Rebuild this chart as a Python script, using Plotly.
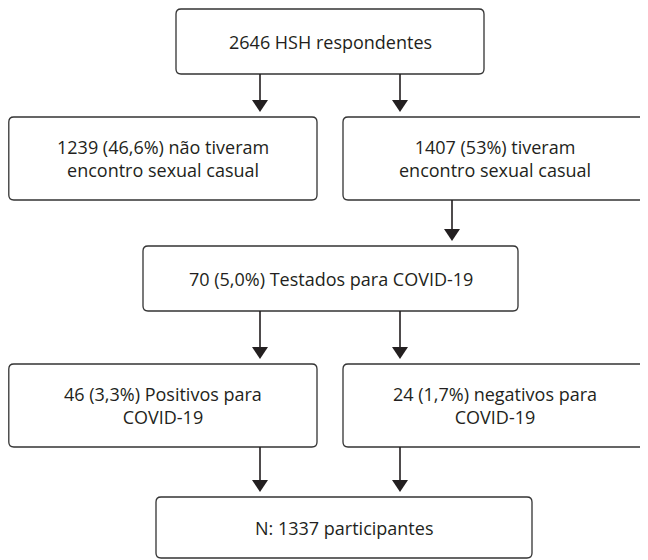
import plotly.graph_objects as go

# ---- data (flowchart content) ----
node_ids = ["total", "nao_casual", "casual", "testados", "positivos", "negativos", "final"]
node_counts = [2646, 1239, 1407, 70, 46, 24, 1337]
node_labels = [
    "2646 HSH respondentes",
    "1239 (46,6%) não tiveram<br>encontro sexual casual",
    "1407 (53%) tiveram<br>encontro sexual casual",
    "70 (5,0%) Testados para COVID-19",
    "46 (3,3%) Positivos para<br>COVID-19",
    "24 (1,7%) negativos para<br>COVID-19",
    "N: 1337 participantes",
]
edges = [
    ("total", "nao_casual"),
    ("total", "casual"),
    ("casual", "testados"),
    ("testados", "positivos"),
    ("testados", "negativos"),
    ("positivos", "final"),
    ("negativos", "final"),
]

# ---- layout (pixel geometry of boxes in page coords: x0, y0, x1, y1) ----
W, H = 648, 560
OFF = 8  # page body margin
box_geom = {
    "total": (176, 9, 484, 74),
    "nao_casual": (8.8, 117, 317, 200),
    "casual": (343, 117, 647, 200),
    "testados": (143, 246, 518, 311),
    "positivos": (8.8, 364, 317, 447),
    "negativos": (343, 364, 647, 447),
    "final": (156, 497, 532, 558),
}
edge_x = {
    ("total", "nao_casual"): 260,
    ("total", "casual"): 400,
    ("casual", "testados"): 452,
    ("testados", "positivos"): 260,
    ("testados", "negativos"): 400,
    ("positivos", "final"): 260,
    ("negativos", "final"): 400,
}

LINE = "#333333"
ARROW = "#231f20"
TEXT = "#231f20"
R = 5
GAP = 5
HEAD_W = 8
HEAD_H = 12


def rounded_rect(x0, y0, x1, y1, r):
    return (
        f"M {x0+r},{y0} L {x1-r},{y0} Q {x1},{y0} {x1},{y0+r} "
        f"L {x1},{y1-r} Q {x1},{y1} {x1-r},{y1} "
        f"L {x0+r},{y1} Q {x0},{y1} {x0},{y1-r} "
        f"L {x0},{y0+r} Q {x0},{y0} {x0+r},{y0} Z"
    )


shapes = []
annotations = []
for nid, label in zip(node_ids, node_labels):
    x0, y0, x1, y1 = box_geom[nid]
    shapes.append(dict(type="path", xref="x", yref="y",
                       path=rounded_rect(x0, y0, x1, y1, R),
                       line=dict(color=LINE, width=1.3), fillcolor="white", layer="below"))
    annotations.append(dict(x=(x0 + x1) / 2, y=(y0 + y1) / 2, xref="x", yref="y",
                            text=label, showarrow=False, align="center",
                            font=dict(family="Open Sans", size=18, color=TEXT)))

for src, dst in edges:
    x = edge_x[(src, dst)]
    ys = box_geom[src][3]
    yd = box_geom[dst][1] - GAP
    shapes.append(dict(type="line", xref="x", yref="y", x0=x, x1=x, y0=ys, y1=yd - HEAD_H + 1,
                       line=dict(color=ARROW, width=1.6)))
    shapes.append(dict(type="path", xref="x", yref="y",
                       path=f"M {x-HEAD_W},{yd-HEAD_H} L {x+HEAD_W},{yd-HEAD_H} L {x},{yd} Z",
                       fillcolor=ARROW, line=dict(color=ARROW, width=0)))

fig = go.Figure()
fig.add_trace(go.Scatter(x=[OFF, W], y=[OFF, H], mode="markers", marker=dict(opacity=0),
                         hoverinfo="skip", showlegend=False))
fig.update_layout(
    width=W - OFF, height=H - OFF, margin=dict(l=0, r=0, t=0, b=0),
    paper_bgcolor="white", plot_bgcolor="white",
    xaxis=dict(range=[OFF, W], visible=False, fixedrange=True),
    yaxis=dict(range=[H, OFF], visible=False, fixedrange=True),
    shapes=shapes, annotations=annotations, showlegend=False,
)
fig.write_html("out.html")
